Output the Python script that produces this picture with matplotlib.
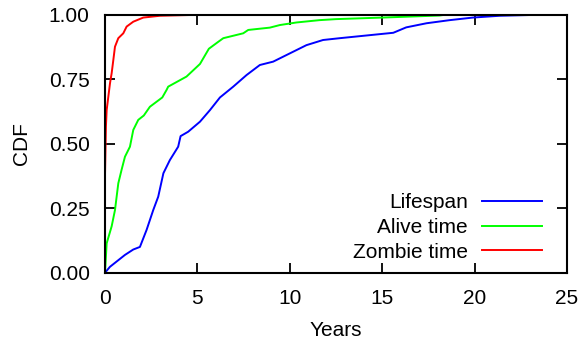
import matplotlib
matplotlib.use("Agg")
import matplotlib.pyplot as plt

plt.rcParams['font.family'] = ['Liberation Sans', 'DejaVu Sans']

# Lifespan (years, CDF)
life_x = [0.0, 0.27, 1.08, 1.53, 1.89, 2.25, 2.61, 2.88, 3.16, 3.51, 3.96, 4.09, 4.5, 5.14,
          5.68, 6.22, 6.94, 7.66, 8.38, 9.1, 10.0, 10.9, 11.8, 12.7, 15.6, 16.3, 17.4,
          18.65, 19.9, 21.35, 23.0]
life_y = [0.0, 0.023, 0.069, 0.09, 0.10, 0.166, 0.243, 0.295, 0.386, 0.437, 0.489, 0.53,
          0.547, 0.586, 0.631, 0.68, 0.722, 0.767, 0.806, 0.819, 0.851, 0.883, 0.903, 0.91,
          0.931, 0.952, 0.968, 0.98, 0.99, 0.997, 1.0]

# Alive time
alive_x = [0.0, 0.09, 0.36, 0.54, 0.72, 0.9, 1.08, 1.35, 1.53, 1.8, 2.1, 2.43, 3.1, 3.33,
           3.42, 4.41, 5.14, 5.62, 6.13, 6.4, 7.48, 7.75, 8.92, 9.46, 10.36, 11.6, 12.5,
           15.0, 18.1, 18.3]
alive_y = [0.0, 0.114, 0.18, 0.243, 0.347, 0.40, 0.45, 0.489, 0.554, 0.593, 0.61, 0.644,
           0.68, 0.709, 0.722, 0.761, 0.81, 0.869, 0.896, 0.91, 0.929, 0.942, 0.951, 0.961,
           0.971, 0.98, 0.984, 0.99, 0.998, 1.0]

# Zombie time
zombie_x = [0.0, 0.05, 0.09, 0.18, 0.27, 0.36, 0.45, 0.54, 0.72, 0.99, 1.17, 1.53, 2.07,
            2.97, 4.6]
zombie_y = [0.379, 0.567, 0.631, 0.683, 0.735, 0.774, 0.825, 0.877, 0.91, 0.929, 0.955,
            0.974, 0.99, 0.997, 1.0]

series_labels = ["Lifespan", "Alive time", "Zombie time"]
x_ticks = [0, 5, 10, 15, 20, 25]
y_ticks = [0.0, 0.25, 0.5, 0.75, 1.0]

fig = plt.figure(figsize=(5.84, 3.49), dpi=100)
ax = fig.add_axes([105/584, 1 - 272.7/349, (567-105)/584, (272.7-15)/349])

ax.plot(life_x, life_y, color='#0000ff', lw=1.4, label=series_labels[0])
ax.plot(alive_x, alive_y, color='#00ff00', lw=1.4, label=series_labels[1])
ax.plot(zombie_x, zombie_y, color='#ff0000', lw=1.4, label=series_labels[2])

ax.set_xlim(0, 25)
ax.set_ylim(0, 1)
ax.set_xticks(x_ticks)
ax.set_yticks(y_ticks)
ax.set_yticklabels([f"{v:.2f}" for v in y_ticks])
ax.tick_params(direction='in', length=7, width=1.3, labelsize=15, top=True, right=True)
ax.tick_params(axis='y', pad=11)
ax.tick_params(axis='x', pad=12)
for s in ax.spines.values():
    s.set_linewidth(1.5)

ax.set_xlabel("Years", fontsize=15, labelpad=9)
ax.set_ylabel("CDF", fontsize=15, labelpad=13)

leg = ax.legend(loc='lower right', frameon=False, markerfirst=False, fontsize=15,
                handlelength=2.85, handletextpad=0.7, labelspacing=0.27,
                borderaxespad=0.3, bbox_to_anchor=(0.977, -0.014))

fig.savefig("out.png", dpi=100)
